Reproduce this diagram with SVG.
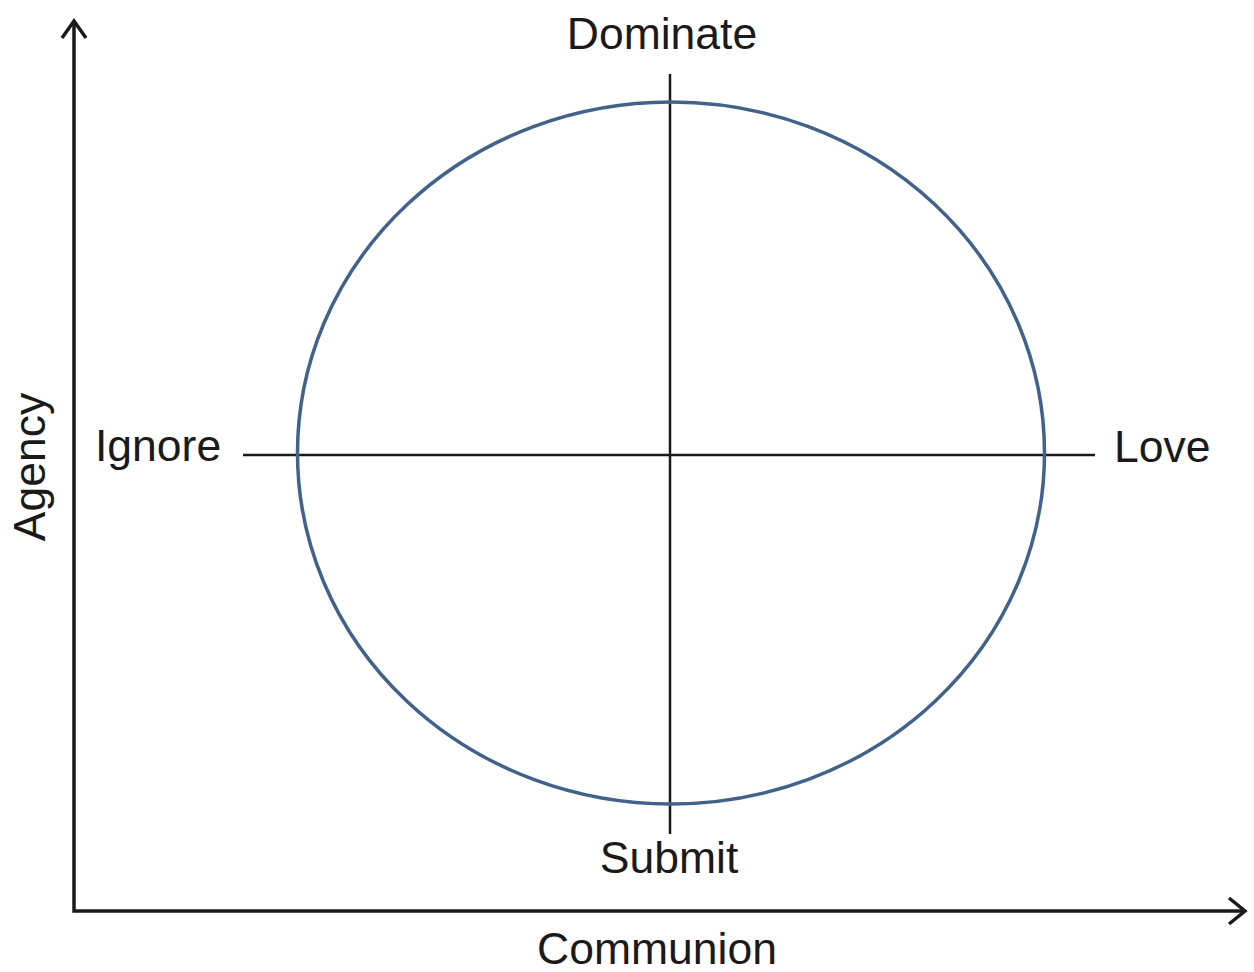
<svg xmlns="http://www.w3.org/2000/svg" width="1254" height="972" viewBox="0 0 1254 972">
<style>
.lbl{font-family:"Liberation Sans",Arial,sans-serif;font-size:44.5px;fill:#1a1a1a}
.ax{stroke:#1a1a1a;stroke-width:3.5;fill:none}
.ln{stroke:#1a1a1a;stroke-width:2.5;fill:none}
</style>
<rect width="1254" height="972" fill="#ffffff"/>
<g id="connectors">
<path class="ax" d="M74,22 V911 H1243"/>
<path class="ax" d="M62,38 L74,21 L86,38" stroke-linejoin="miter"/>
<path class="ax" d="M1229,898 L1245,911 L1229,924" stroke-linejoin="miter"/>
<line class="ln" x1="670" y1="74" x2="670" y2="834"/>
<line class="ln" x1="243" y1="455" x2="1095" y2="455"/>
</g>
<g id="circle">
<ellipse cx="671" cy="453" rx="373.5" ry="351" fill="none" stroke="#41638a" stroke-width="3.5"/>
</g>
<g id="dominate"><text class="lbl" x="662" y="49" text-anchor="middle">Dominate</text></g>
<g id="submit"><text class="lbl" x="669" y="873" text-anchor="middle">Submit</text></g>
<g id="ignore"><text class="lbl" x="95" y="461">Ignore</text></g>
<g id="love"><text class="lbl" x="1114" y="462">Love</text></g>
<g id="communion"><text class="lbl" x="657" y="964" text-anchor="middle">Communion</text></g>
<g id="agency"><text class="lbl" transform="translate(45,467) rotate(-90)" text-anchor="middle">Agency</text></g>
</svg>
